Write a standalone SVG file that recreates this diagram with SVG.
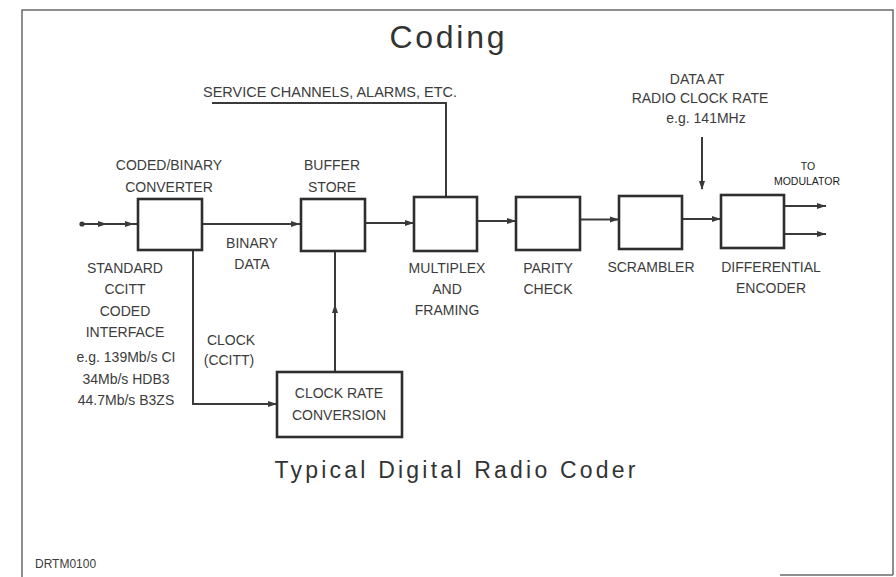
<svg xmlns="http://www.w3.org/2000/svg" xmlns:xlink="http://www.w3.org/1999/xlink" width="896" height="577" viewBox="0 0 896 577">
  <style>
    .frame { fill: none; stroke: #6a6a6a; stroke-width: 1.5; }
    .box { fill: #ffffff; stroke: #2e2e2e; stroke-width: 2.6; }
    .wire { fill: none; stroke: #3a3a3a; stroke-width: 2; }
    .ah { fill: #3a3a3a; }
    .lbl { font-family: "Liberation Sans", Arial, sans-serif; font-size: 14px; fill: #3c3c3c; text-anchor: middle; }
    .small { font-family: "Liberation Sans", Arial, sans-serif; font-size: 10.5px; fill: #222; text-anchor: middle; }
    .title { font-family: "Liberation Sans", Arial, sans-serif; font-size: 32px; fill: #333; text-anchor: middle; }
    .subtitle { font-family: "Liberation Sans", Arial, sans-serif; font-size: 23px; fill: #333; text-anchor: middle; }
    .code { font-family: "Liberation Sans", Arial, sans-serif; font-size: 12px; fill: #3c3c3c; }
  </style>
  <defs>
    <!-- arrowhead pointing right, tip at origin -->
    <path id="ah" class="ah" d="M0 0 L-9 -3 L-9 3 Z"/>
  </defs>

  <rect width="896" height="577" fill="#ffffff"/>

  <!-- page frame -->
  <g id="frame">
    <path class="frame" d="M22 577 V10 H893 V575"/>
    <path class="frame" d="M780 575 H893" stroke="#9a9a9a"/>
  </g>

  <text class="title" x="447" y="48" textLength="115" lengthAdjust="spacing">Coding</text>

  <!-- connectors -->
  <g id="connectors">
    <!-- coded input -->
    <circle cx="82" cy="224" r="2.6" fill="#3a3a3a"/>
    <path class="wire" d="M82 224 H138"/>
    <use xlink:href="#ah" transform="translate(107,224)"/>
    <use xlink:href="#ah" transform="translate(134,224)"/>
    <!-- binary data -->
    <path class="wire" d="M202 224 H300"/>
    <use xlink:href="#ah" transform="translate(300,224)"/>
    <!-- buffer to multiplex -->
    <path class="wire" d="M365 223 H414"/>
    <use xlink:href="#ah" transform="translate(414,223)"/>
    <!-- multiplex to parity -->
    <path class="wire" d="M477 221 H516"/>
    <use xlink:href="#ah" transform="translate(516,221)"/>
    <!-- parity to scrambler -->
    <path class="wire" d="M580 219.5 H619"/>
    <use xlink:href="#ah" transform="translate(619,219.5)"/>
    <!-- scrambler to differential encoder -->
    <path class="wire" d="M682 219 H721"/>
    <use xlink:href="#ah" transform="translate(721,219)"/>
    <!-- outputs to modulator -->
    <path class="wire" d="M784 206 H826"/>
    <use xlink:href="#ah" transform="translate(826,206)"/>
    <path class="wire" d="M784 234 H826"/>
    <use xlink:href="#ah" transform="translate(826,234)"/>
    <!-- clock (CCITT) -->
    <path class="wire" d="M193 250 V404 H277"/>
    <use xlink:href="#ah" transform="translate(277,404)"/>
    <!-- converted clock up to buffer -->
    <path class="wire" d="M335 372 V251"/>
    <use xlink:href="#ah" transform="translate(335,304) rotate(-90)"/>
    <!-- service channels -->
    <path class="wire" d="M212 103 H446 V197"/>
    <!-- radio clock rate data -->
    <path class="wire" d="M702 137 V189"/>
    <use xlink:href="#ah" transform="translate(702,190) rotate(90)"/>
  </g>

  <g id="converter">
    <rect class="box" x="138" y="199" width="64" height="51"/>
    <text class="lbl" x="169" y="170">CODED/BINARY</text>
    <text class="lbl" x="169" y="192">CONVERTER</text>
  </g>

  <g id="buffer">
    <rect class="box" x="301" y="199" width="64" height="52"/>
    <text class="lbl" x="332" y="170">BUFFER</text>
    <text class="lbl" x="332" y="192">STORE</text>
  </g>

  <g id="multiplex">
    <rect class="box" x="414" y="197" width="63" height="54"/>
    <text class="lbl" x="447" y="273">MULTIPLEX</text>
    <text class="lbl" x="447" y="294">AND</text>
    <text class="lbl" x="447" y="315">FRAMING</text>
  </g>

  <g id="parity">
    <rect class="box" x="516" y="197" width="64" height="53"/>
    <text class="lbl" x="548" y="273">PARITY</text>
    <text class="lbl" x="548" y="294">CHECK</text>
  </g>

  <g id="scrambler">
    <rect class="box" x="619" y="196" width="63" height="53"/>
    <text class="lbl" x="651" y="272">SCRAMBLER</text>
  </g>

  <g id="encoder">
    <rect class="box" x="721" y="195" width="63" height="53"/>
    <text class="lbl" x="771" y="272">DIFFERENTIAL</text>
    <text class="lbl" x="771" y="293">ENCODER</text>
  </g>

  <g id="clockrate">
    <rect class="box" x="277" y="372" width="125" height="65"/>
    <text class="lbl" x="339" y="398">CLOCK RATE</text>
    <text class="lbl" x="339" y="420">CONVERSION</text>
  </g>

  <!-- free labels -->
  <g id="labels">
    <text class="lbl" x="125" y="273">STANDARD</text>
    <text class="lbl" x="125" y="294">CCITT</text>
    <text class="lbl" x="125" y="316">CODED</text>
    <text class="lbl" x="125" y="337">INTERFACE</text>
    <text class="lbl" x="126" y="362">e.g. 139Mb/s CI</text>
    <text class="lbl" x="126" y="384">34Mb/s HDB3</text>
    <text class="lbl" x="126" y="405">44.7Mb/s B3ZS</text>

    <text class="lbl" x="252" y="248">BINARY</text>
    <text class="lbl" x="252" y="269">DATA</text>

    <text class="lbl" x="231" y="345">CLOCK</text>
    <text class="lbl" x="229" y="365">(CCITT)</text>

    <text class="lbl" x="330" y="97" textLength="254" lengthAdjust="spacingAndGlyphs">SERVICE CHANNELS, ALARMS, ETC.</text>

    <text class="lbl" x="697" y="84">DATA AT</text>
    <text class="lbl" x="700" y="103">RADIO CLOCK RATE</text>
    <text class="lbl" x="706" y="123">e.g. 141MHz</text>

    <text class="small" x="808" y="170">TO</text>
    <text class="small" x="807" y="185">MODULATOR</text>
  </g>

  <text class="subtitle" x="455" y="478" textLength="361" lengthAdjust="spacing">Typical Digital Radio Coder</text>

  <text class="code" x="35" y="568">DRTM0100</text>
</svg>
